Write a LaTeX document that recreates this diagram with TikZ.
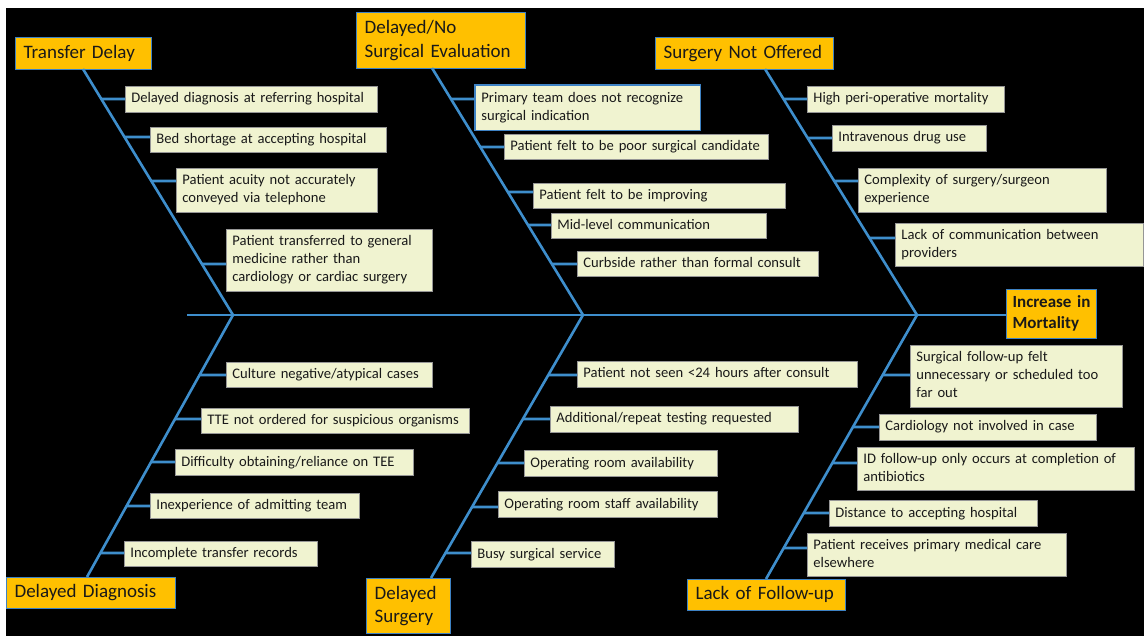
\documentclass[tikz,border=0pt]{standalone}
\usepackage{fontspec}
\setmainfont{Carlito}
\usepackage{xcolor}

\definecolor{bonecol}{RGB}{62,142,204}
\definecolor{causefill}{RGB}{240,243,208}
\definecolor{causeline}{RGB}{150,150,150}
\definecolor{catfill}{RGB}{255,192,0}
\definecolor{catline}{RGB}{62,130,196}

\tikzset{
  bone/.style={draw=bonecol, line width=2.6pt},
  twig/.style={draw=bonecol, line width=2.6pt},
  cause/.style={draw=causeline, line width=0.8pt, fill=causefill, anchor=north west,
    inner xsep=6pt, inner ysep=0pt, align=left, text=black!90,
    font=\fontsize{14.6}{18}\selectfont,
    execute at begin node={\hyphenpenalty=10000\strut}, execute at end node=\strut},
  cat/.style={draw=catline, line width=1.2pt, fill=catfill, anchor=north west,
    inner xsep=8pt, inner ysep=0pt, align=left, text=black!90,
    font=\fontsize{19}{23.5}\selectfont,
    execute at begin node=\strut, execute at end node=\strut}
}

% #1--#2 is the bone, #3 the list name/x/y/width/height/twig y/text
\newcommand\causes[3]{%
  \foreach \nm/\x/\y/\w/\h/\ty/\txt in {#3}{%
    \pgfmathsetmacro\tw{\w-12}
    \node[cause, text width=\tw pt, minimum height=\h pt] (\nm) at (\x,\y) {\txt};
    \coordinate (e\nm) at (\x,\ty);
    \coordinate (f\nm) at (0,\ty);
    \draw[twig] (e\nm) -- (intersection of #1--#2 and e\nm--f\nm);
  }}

\begin{document}
\begin{tikzpicture}[x=1pt,y=-1pt]
    \useasboundingbox (0,0) rectangle (1144,636);
    \fill[black] (6,8) rectangle (1144,636);

    % categories
    \node[cat, text width=120pt, minimum height=32pt] (td) at (15,37) {Transfer Delay};
    \node[cat, text width=153pt, minimum height=56pt] (dn) at (356,12) {Delayed/No\\Surgical Evaluation};
    \node[cat, text width=162pt, minimum height=32pt] (sn) at (655,37) {Surgery Not Offered};
    \node[cat, text width=153pt, minimum height=31pt] (dd) at (6,577) {Delayed Diagnosis};
    \node[cat, text width=68pt, minimum height=55pt] (ds) at (366,578) {Delayed\\Surgery};
    \node[cat, text width=142pt, minimum height=31pt] (lf) at (687,579) {Lack of Follow-up};
    \node[cat, inner xsep=6pt, text width=78pt, minimum height=49pt,
          font=\fontsize{17}{21}\selectfont\bfseries] (im) at (1006,289) {Increase in\\Mortality};

    % spine and bones
    \coordinate (tail) at (187,315);
    \coordinate (h1) at (233,315);
    \coordinate (h2) at (583,315);
    \coordinate (h3) at (917,315);
    \coordinate (tdf) at (83,69);
    \coordinate (dnf) at (432,68);
    \coordinate (snf) at (765,69);
    \coordinate (ddf) at (87,577);
    \coordinate (dsf) at (431,578);
    \coordinate (lff) at (766,579);
    \draw[bone] (tail) -- (tail -| im.west);
    \draw[bone] (tdf) -- (h1) -- (ddf);
    \draw[bone] (dnf) -- (h2) -- (dsf);
    \draw[bone] (snf) -- (h3) -- (lff);

    % causes
    \causes{tdf}{h1}{
      a1/125/86/252/26/99/{Delayed diagnosis at referring hospital},
      a2/150/127/236/25/137/{Bed shortage at accepting hospital},
      a3/176/168/201/44/181/{Patient acuity not accurately\\conveyed via telephone},
      a4/226/229/206/62/264/{Patient transferred to general\\medicine rather than\\cardiology or cardiac surgery}}
    \causes{dnf}{h2}{
      b1/475/85/225/45/99/{Primary team does not recognize\\surgical indication},
      b2/504/134/264/25/147/{Patient felt to be poor surgical candidate},
      b3/533/183/252/25/192/{Patient felt to be improving},
      b4/551/213/215/25/225/{Mid-level communication},
      b5/577/251/241/25/264/{Curbside rather than formal consult}}
    \draw[catline, line width=1.2pt] (b1.north west) rectangle (b1.south east);
    \causes{snf}{h3}{
      c1/807/86/197/26/99/{High peri-operative mortality},
      c2/832/125/154/26/138/{Intravenous drug use},
      c3/858/168/248/44/181/{Complexity of surgery/surgeon\\experience},
      c4/895/223/248/43/238/{Lack of communication between\\providers}}
    \causes{h1}{ddf}{
      d1/226/362/206/25/375/{Culture negative/atypical cases},
      d2/201/408/268/25/419/{TTE not ordered for suspicious organisms},
      d3/175/449/238/26/462/{Difficulty obtaining/reliance on TEE},
      d4/150/493/209/25/506/{Inexperience of admitting team},
      d5/124/541/193/25/553/{Incomplete transfer records}}
    \causes{h2}{dsf}{
      e1/577/361/280/26/375/{Patient not seen <24 hours after consult},
      e2/550/406/248/26/419/{Additional/repeat testing requested},
      e3/524/450/193/26/463/{Operating room availability},
      e4/498/491/219/26/507/{Operating room staff availability},
      e5/471/541/143/26/553/{Busy surgical service}}
    \causes{h3}{lff}{
      f1/910/345/212/62/375/{Surgical follow-up felt\\unnecessary or scheduled too\\far out},
      f2/879/414/217/26/427/{Cardiology not involved in case},
      f3/857/447/277/43/463/{ID follow-up only occurs at completion of\\antibiotics},
      f4/829/500/208/26/513/{Distance to accepting hospital},
      f5/807/533/259/43/548/{Patient receives primary medical care\\elsewhere}}
\end{tikzpicture}
\end{document}
